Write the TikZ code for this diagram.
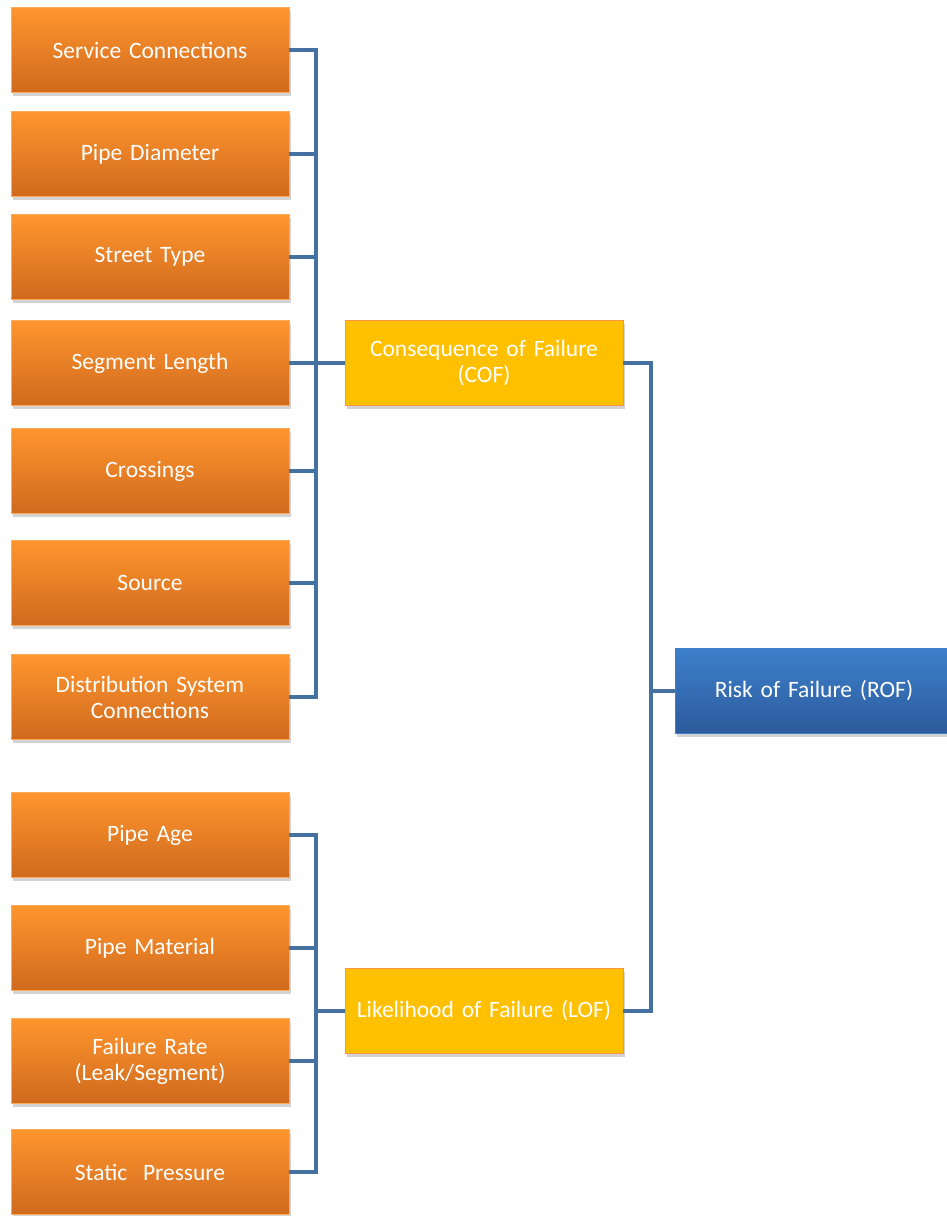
\documentclass[tikz,border=0pt]{standalone}
\usepackage{fontspec}
\setmainfont{Carlito}
\usepackage{tikz}
\usetikzlibrary{shadows}

\definecolor{factTop}{HTML}{FF952E}
\definecolor{factBot}{HTML}{CF6A1E}
\definecolor{midFill}{HTML}{FFC000}
\definecolor{midLine}{HTML}{F79646}
\definecolor{rofTop}{HTML}{3D7FCB}
\definecolor{rofBot}{HTML}{2C5B9C}
\definecolor{linkBlue}{HTML}{44719F}

\tikzset{
  factor/.style={rectangle, minimum width=278pt, minimum height=85pt,
    top color=factTop, bottom color=factBot, draw=factTop!80!white, line width=0.6pt,
    text=white, align=center, text width=268pt,
    font=\fontsize{23.5}{26}\selectfont,
    drop shadow={opacity=0.35, shadow xshift=2pt, shadow yshift=-3pt}},
  group/.style={factor, fill=midFill, top color=midFill, bottom color=midFill, draw=midLine},
  result/.style={factor, top color=rofTop, bottom color=rofBot, draw=rofTop},
  link/.style={draw=linkBlue, line width=3.6pt}
}

\begin{document}
\begin{tikzpicture}[x=1pt, y=-1pt]

  \useasboundingbox (0,0) rectangle (946,1216);

  %% consequence factors
  \node[factor] (svc) at (150, 50) {Service Connections};
  \node[factor] (dia) at (150,154) {Pipe Diameter};
  \node[factor] (str) at (150,257) {Street Type};
  \node[factor] (len) at (150,363) {Segment Length};
  \node[factor] (crs) at (150,471) {Crossings};
  \node[factor] (src) at (150,583) {Source};
  \node[factor] (dsc) at (150,697) {Distribution System\\Connections};

  %% likelihood factors
  \node[factor] (age) at (150,835) {Pipe Age};
  \node[factor] (mat) at (150,948) {Pipe Material};
  \node[factor] (rat) at (150,1061) {Failure Rate\\(Leak/Segment)};
  \node[factor] (prs) at (150,1172) {\raisebox{-6pt}{Static\ \ Pressure}};

  \node[group] (cof) at (484, 363) {Consequence of Failure\\(COF)};
  \node[group] (lof) at (484,1011) {Likelihood of Failure (LOF)};
  \node[result] (rof) at (814, 691) {Risk of Failure (ROF)};

  \coordinate (busC) at (316,0);
  \coordinate (busR) at (651,0);

  % COF bus
  \draw[link] (svc.east) -| (busC |- dsc.east) -- (dsc.east);
  \draw[link] (dia.east) -- (busC |- dia.east);
  \draw[link] (str.east) -- (busC |- str.east);
  \draw[link] (len.east) -- (busC |- len.east);
  \draw[link] (crs.east) -- (busC |- crs.east);
  \draw[link] (src.east) -- (busC |- src.east);
  \draw[link] (busC |- cof.west) -- (cof.west);

  % LOF bus
  \draw[link] (age.east) -| (busC |- prs.east) -- (prs.east);
  \draw[link] (mat.east) -- (busC |- mat.east);
  \draw[link] (rat.east) -- (busC |- rat.east);
  \draw[link] (busC |- lof.west) -- (lof.west);

  % ROF
  \draw[link] (cof.east) -| (busR |- lof.east) -- (lof.east);
  \draw[link] (busR |- rof.west) -- (rof.west);

\end{tikzpicture}
\end{document}
